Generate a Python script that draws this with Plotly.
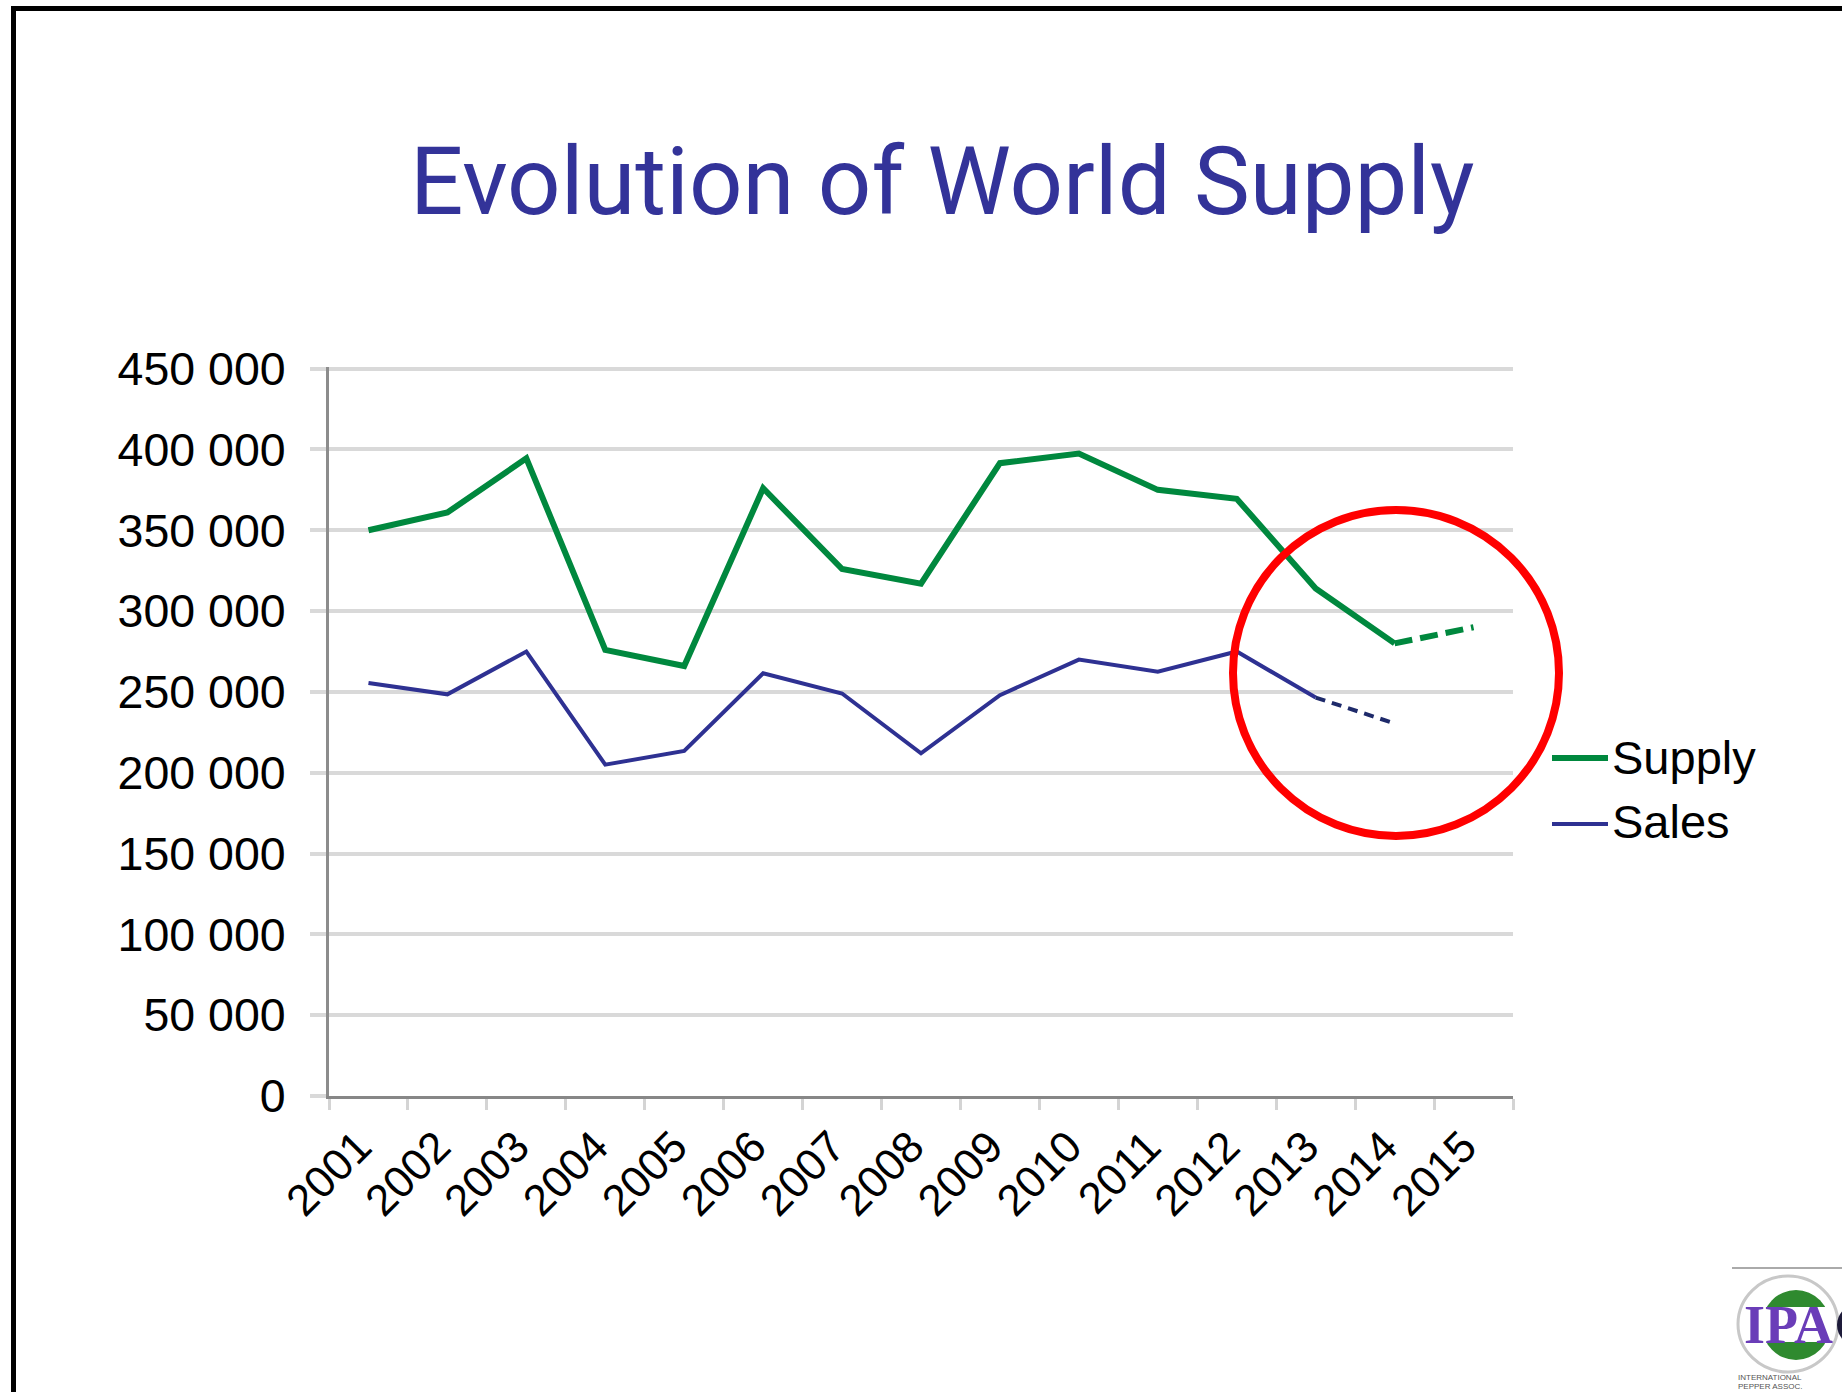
import plotly.graph_objects as go

# ---------------- data ----------------
years = ["2001", "2002", "2003", "2004", "2005", "2006", "2007", "2008",
         "2009", "2010", "2011", "2012", "2013", "2014", "2015"]
supply = [350000, 361000, 394500, 276000, 266000, 376000, 326000, 317000,
          391500, 397500, 375000, 369500, 314000, 280000, 290000]
sales = [255500, 248500, 275000, 205000, 213500, 261500, 249000, 212000,
         248000, 270000, 262500, 275000, 246500, 230500, None]
supply_forecast_from = 13   # index where supply turns dashed (2014)
sales_forecast_from = 12    # index where sales turns dashed (2013)
y_tick_values = [0, 50000, 100000, 150000, 200000, 250000, 300000, 350000, 400000, 450000]
y_tick_labels = ["0", "50 000", "100 000", "150 000", "200 000", "250 000",
                 "300 000", "350 000", "400 000", "450 000"]
series_names = ["Supply", "Sales"]
title_text = "Evolution of World Supply"

# ---------------- layout geometry ----------------
W, H = 1842, 1392
L, R, T, B = 329, 329, 367, 296
PW, PH = W - L - R, H - T - B
Y_MAX = 451000


def px(x):
    return (x - L) / PW


def py(y):
    return (H - B - y) / PH


GREEN = "#00883E"
NAVY = "#2E3192"
NAVY_DARK = "#1E2A6A"
TICK_FONT = "Liberation Sans, Arial, sans-serif"

fig = go.Figure()

fig.add_trace(go.Scatter(x=years[:supply_forecast_from + 1], y=supply[:supply_forecast_from + 1],
                         mode="lines", line=dict(color=GREEN, width=6),
                         name=series_names[0], showlegend=False))
fig.add_trace(go.Scatter(x=years[supply_forecast_from:], y=supply[supply_forecast_from:],
                         mode="lines", line=dict(color=GREEN, width=6, dash="18px,8px"),
                         showlegend=False))
fig.add_trace(go.Scatter(x=years[:sales_forecast_from + 1], y=sales[:sales_forecast_from + 1],
                         mode="lines", line=dict(color=NAVY, width=4),
                         name=series_names[1], showlegend=False))
fig.add_trace(go.Scatter(x=years[sales_forecast_from:sales_forecast_from + 2],
                         y=sales[sales_forecast_from:sales_forecast_from + 2],
                         mode="lines", line=dict(color=NAVY_DARK, width=4, dash="10px,7px"),
                         showlegend=False))

shapes = []
# red highlight circle
cx, cy, rad = 1396, 673, 163
shapes.append(dict(type="circle", xref="paper", yref="paper",
                   x0=px(cx - rad), x1=px(cx + rad), y0=py(cy + rad), y1=py(cy - rad),
                   line=dict(color="#FF0000", width=8)))
# legend lines
shapes.append(dict(type="line", xref="paper", yref="paper",
                   x0=px(1552), x1=px(1608), y0=py(758), y1=py(758),
                   line=dict(color=GREEN, width=6)))
shapes.append(dict(type="line", xref="paper", yref="paper",
                   x0=px(1552), x1=px(1608), y0=py(824), y1=py(824),
                   line=dict(color=NAVY, width=4)))
# slide frame (top and left edges)
shapes.append(dict(type="line", xref="paper", yref="paper",
                   x0=px(11), x1=px(W + 5), y0=py(8.5), y1=py(8.5),
                   line=dict(color="#000000", width=5)))
shapes.append(dict(type="line", xref="paper", yref="paper",
                   x0=px(13.5), x1=px(13.5), y0=py(6), y1=py(H + 5),
                   line=dict(color="#000000", width=5)))
# logo
shapes.append(dict(type="line", xref="paper", yref="paper",
                   x0=px(1732), x1=px(W + 5), y0=py(1268), y1=py(1268),
                   line=dict(color="#AAAAAA", width=2)))
shapes.append(dict(type="circle", xref="paper", yref="paper",
                   x0=px(1762), x1=px(1830), y0=py(1360), y1=py(1290),
                   fillcolor="#2F8A2F", line=dict(width=0)))
shapes.append(dict(type="rect", xref="paper", yref="paper",
                   x0=px(1756), x1=px(1836), y0=py(1342), y1=py(1307),
                   fillcolor="#FFFFFF", line=dict(width=0)))
shapes.append(dict(type="circle", xref="paper", yref="paper",
                   x0=px(1738), x1=px(1838), y0=py(1372), y1=py(1276),
                   line=dict(color="#C8C8C8", width=3)))
shapes.append(dict(type="circle", xref="paper", yref="paper",
                   x0=px(1837), x1=px(1880), y0=py(1346), y1=py(1304),
                   fillcolor="#1E1B3A", line=dict(width=0)))

annotations = [
    dict(text=title_text, xref="paper", yref="paper", x=px(942.5), y=py(182),
         xanchor="center", yanchor="middle", showarrow=False,
         font=dict(family="Roboto, sans-serif", size=94, color="#333399")),
    dict(text=series_names[0], xref="paper", yref="paper", x=px(1610), y=py(757),
         xanchor="left", yanchor="middle", showarrow=False,
         font=dict(family=TICK_FONT, size=47, color="#000000")),
    dict(text=series_names[1], xref="paper", yref="paper", x=px(1610), y=py(821),
         xanchor="left", yanchor="middle", showarrow=False,
         font=dict(family=TICK_FONT, size=47, color="#000000")),
    dict(text="<b>IPA</b>", xref="paper", yref="paper", x=px(1788), y=py(1325),
         xanchor="center", yanchor="middle", showarrow=False,
         font=dict(family="Liberation Serif, serif", size=54, color="#6A3DB8")),
    dict(text="INTERNATIONAL", xref="paper", yref="paper", x=px(1736), y=py(1377),
         xanchor="left", yanchor="middle", showarrow=False,
         font=dict(family=TICK_FONT, size=8, color="#555555")),
    dict(text="PEPPER ASSOC.", xref="paper", yref="paper", x=px(1736), y=py(1386),
         xanchor="left", yanchor="middle", showarrow=False,
         font=dict(family=TICK_FONT, size=8, color="#555555")),
]

fig.update_layout(
    width=W, height=H,
    margin=dict(l=L, r=R, t=T, b=B, pad=0),
    paper_bgcolor="white", plot_bgcolor="white",
    showlegend=False,
    shapes=shapes, annotations=annotations,
    xaxis=dict(type="category", categoryorder="array", categoryarray=years,
               range=[-0.5, len(years) - 0.5],
               showline=True, linecolor="#878787", linewidth=3,
               ticks="outside", tickson="boundaries", ticklen=11, tickwidth=2.5,
               tickcolor="#D4D4D4", tickangle=-45, showgrid=False, zeroline=False,
               ticklabelshift=-10, ticklabelstandoff=4,
               tickfont=dict(family=TICK_FONT, size=44, color="#000000")),
    yaxis=dict(range=[0, Y_MAX], tickvals=y_tick_values, ticktext=y_tick_labels,
               showgrid=True, gridcolor="#D9D9D9", gridwidth=4,
               ticks="outside", ticklen=16, tickwidth=4, tickcolor="#D9D9D9",
               showline=True, linecolor="#8C8C8C", linewidth=3, zeroline=False,
               ticklabelstandoff=15,
               tickfont=dict(family=TICK_FONT, size=46.5, color="#000000")),
)

fig.write_html("out.html", config={"displayModeBar": False},
               post_script="document.body.style.margin='0';")
